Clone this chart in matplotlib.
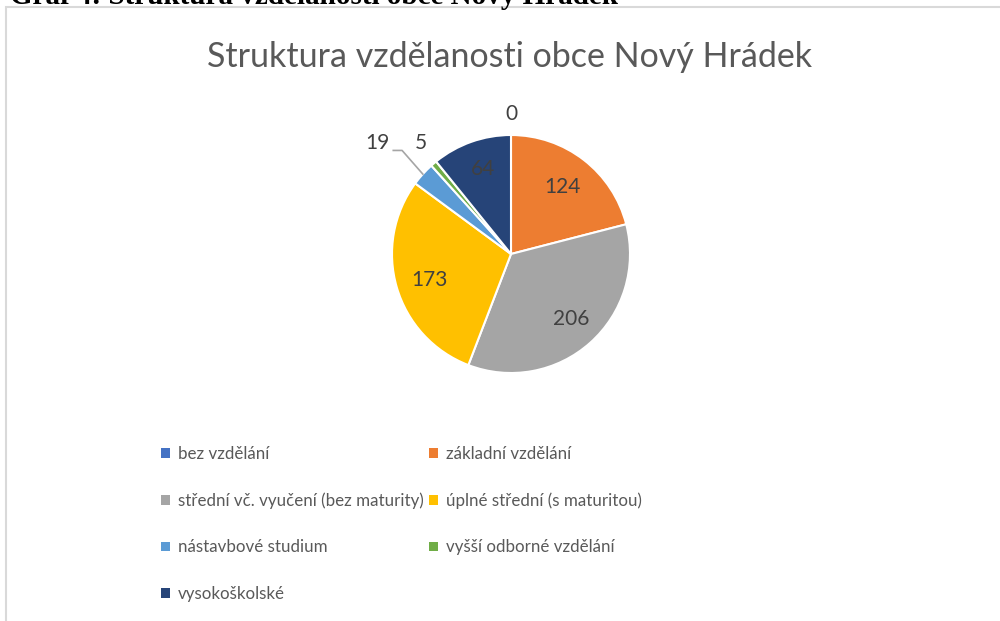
import matplotlib.pyplot as plt
import numpy as np
from matplotlib.patches import Rectangle

# Data
kategorie = ['bez vzdělání', 'základní vzdělání', 'střední vč. vyučení (bez maturity)',
             'úplné střední (s maturitou)', 'nástavbové studium', 'vyšší odborné vzdělání',
             'vysokoškolské']
pocty = [0, 124, 206, 173, 19, 5, 64]
barvy = ['#4472C4', '#ED7D31', '#A5A5A5', '#FFC000', '#5B9BD5', '#70AD47', '#264478']

plt.rcParams['font.family'] = ['Lato', 'DejaVu Sans']

fig = plt.figure(figsize=(10, 6.21), dpi=100)
W, H = 1000, 621

# cut caption and chart frame
fig.text(0.010, 1 - 3.5 / H, 'Graf 4: Struktura vzdělanosti obce Nový Hrádek',
         family='Liberation Serif', weight='bold', fontsize=21, va='baseline')
fig.patches.append(Rectangle((6 / W, -0.1), 1.2, 1 - 7 / H + 0.1, transform=fig.transFigure,
                             facecolor='white', edgecolor='#D9D9D9', lw=1.5, zorder=-1))

fig.text(0.51, 1 - 57 / H, 'Struktura vzdělanosti obce Nový Hrádek', ha='center', va='center',
         fontsize=24.5, color='#595959')

cx, cy, r = 511, 254, 119
ax = fig.add_axes([(cx - r) / W, 1 - (cy + r) / H, 2 * r / W, 2 * r / H])
wedges, _ = ax.pie(pocty, colors=barvy, startangle=90, counterclock=False,
                   wedgeprops=dict(edgecolor='white', linewidth=1.5))
ax.set_xlim(-1, 1)
ax.set_ylim(-1, 1)
ax.axis('off')

# label placement (radial distance, angle shift)
vzdal = [1.18, 0.71, 0.74, 0.72, 1.46, 1.20, 0.75]
posun = [0, 0, 1, 1.4, 2.6, -1.5, -1.3]
for w, v, d, p in zip(wedges, pocty, vzdal, posun):
    mid = np.deg2rad((w.theta1 + w.theta2) / 2)
    ang = mid + np.deg2rad(p)
    x, y = d * np.cos(ang), d * np.sin(ang)
    if v == 19:
        ax.plot([x + 0.136, x + 0.21, np.cos(mid)], [y - 0.06, y - 0.06, np.sin(mid)],
                color='#A5A5A5', lw=1.2, clip_on=False)
    ax.text(x, y, str(v), ha='center', va='center', fontsize=15, color='#404040')

# legend (row by row)
poradi = [0, 2, 4, 6, 1, 3, 5]
leg = fig.legend([wedges[i] for i in poradi], [kategorie[i] for i in poradi],
                 ncol=2, loc='upper left', bbox_to_anchor=(146 / W, 1 - 431 / H),
                 frameon=False, fontsize=12.2, labelcolor='#595959',
                 handlelength=0.5, handleheight=0.5, handletextpad=0.5,
                 labelspacing=1.79, columnspacing=0.3)
for h in leg.legend_handles:
    h.set_edgecolor('none')

plt.savefig('out.png', dpi=100)
